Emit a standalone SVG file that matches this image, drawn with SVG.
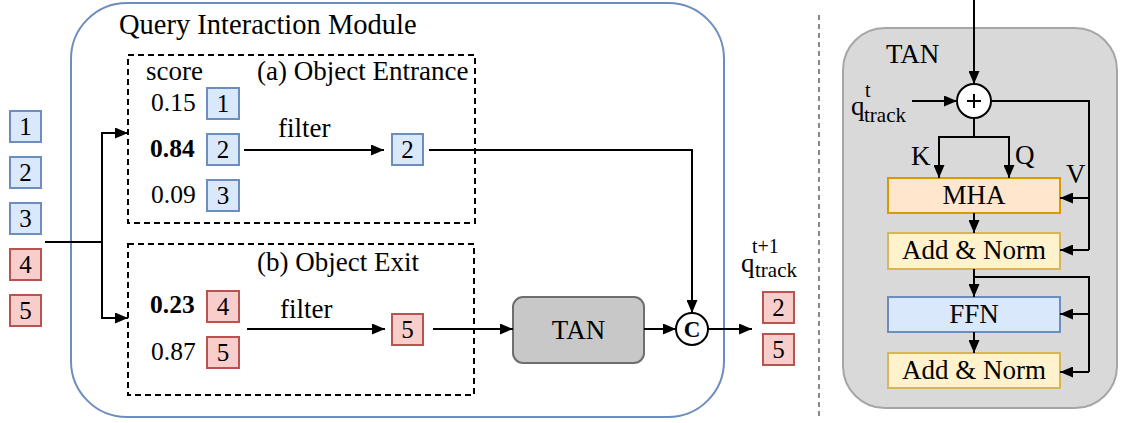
<svg xmlns="http://www.w3.org/2000/svg" width="1121" height="423" viewBox="0 0 1121 423" font-family="'Liberation Serif', 'DejaVu Serif', serif">
  <style>
    text { font-family: 'Liberation Serif', 'DejaVu Serif', serif; fill: #000; }
    .lbl { font-size: 27px; }
    .score { font-size: 25.5px; }
    .num { font-size: 25px; text-anchor: middle; }
    .mid { text-anchor: middle; }
    .blue { fill: #dae8fc; stroke: #6c8ebf; stroke-width: 2; }
    .red { fill: #f8cecc; stroke: #b85450; stroke-width: 2; }
    .dash { fill: none; stroke: #000; stroke-width: 2; stroke-dasharray: 6 4; }
    .wire { fill: none; stroke: #000; stroke-width: 2; }
    .arr { fill: none; stroke: #000; stroke-width: 2; marker-end: url(#head); }
  </style>
  <defs>
    <marker id="head" markerUnits="userSpaceOnUse" markerWidth="13" markerHeight="11" refX="13" refY="5.5" orient="auto">
      <path d="M0,0 L13,5.5 L0,11 z" fill="#000"/>
    </marker>
  </defs>

  <rect width="1121" height="423" fill="#fff"/>

  <!-- module frame -->
  <g id="query-interaction-module">
    <rect x="71" y="3" width="653" height="414" rx="56" ry="56" fill="none" stroke="#6c8ebf" stroke-width="2"/>
    <text x="119" y="34" font-size="28.5">Query Interaction Module</text>
  </g>

  <!-- separator -->
  <line x1="819" y1="15" x2="819" y2="418" stroke="#888" stroke-width="2" stroke-dasharray="5 4"/>

  <!-- input queries -->
  <g id="inputs">
    <rect class="blue" x="10" y="111" width="31" height="31"/><text class="num" x="25.5" y="135">1</text>
    <rect class="blue" x="10" y="157" width="31" height="31"/><text class="num" x="25.5" y="181">2</text>
    <rect class="blue" x="10" y="203" width="31" height="31"/><text class="num" x="25.5" y="227">3</text>
    <rect class="red" x="10" y="249" width="31" height="31"/><text class="num" x="25.5" y="273">4</text>
    <rect class="red" x="10" y="295" width="31" height="31"/><text class="num" x="25.5" y="319">5</text>
  </g>

  <!-- (a) object entrance -->
  <g id="object-entrance">
    <rect class="dash" x="128" y="55" width="347" height="168"/>
    <text class="lbl" x="146" y="80">score</text>
    <text class="lbl" x="257" y="80">(a) Object Entrance</text>
    <text class="score" x="151" y="111">0.15</text>
    <text class="score" x="150" y="157" font-weight="bold">0.84</text>
    <text class="score" x="151" y="203">0.09</text>
    <rect class="blue" x="207" y="88" width="32" height="31"/><text class="num" x="223" y="112">1</text>
    <rect class="blue" x="207" y="134" width="32" height="31"/><text class="num" x="223" y="158">2</text>
    <rect class="blue" x="207" y="180" width="32" height="31"/><text class="num" x="223" y="204">3</text>
    <text class="lbl" x="278" y="137">filter</text>
    <rect class="blue" x="392" y="134" width="31" height="31"/><text class="num" x="407.5" y="158">2</text>
  </g>

  <!-- (b) object exit -->
  <g id="object-exit">
    <rect class="dash" x="128" y="244" width="346" height="151"/>
    <text class="lbl" x="257" y="271">(b) Object Exit</text>
    <text class="score" x="150" y="313" font-weight="bold">0.23</text>
    <text class="score" x="151" y="360">0.87</text>
    <rect class="red" x="207" y="291" width="32" height="31"/><text class="num" x="223" y="315">4</text>
    <rect class="red" x="207" y="337" width="32" height="31"/><text class="num" x="223" y="361">5</text>
    <text class="lbl" x="280" y="318">filter</text>
    <rect class="red" x="392" y="314" width="31" height="31"/><text class="num" x="407.5" y="338">5</text>
  </g>

  <!-- TAN block in module -->
  <g id="tan-block">
    <rect x="513" y="297" width="131" height="66" rx="10" ry="10" fill="#c8c8c8" stroke="#6e6e6e" stroke-width="2"/>
    <text class="lbl mid" x="578.5" y="339">TAN</text>
  </g>

  <!-- concat -->
  <g id="concat">
    <circle cx="692" cy="329" r="16" fill="#fff" stroke="#000" stroke-width="2"/>
    <text class="mid" x="692" y="337" font-size="23" font-weight="bold">C</text>
  </g>

  <!-- output queries -->
  <g id="outputs">
    <text x="752" y="253" font-size="20">t+1</text>
    <text x="741" y="272" font-size="27">q</text>
    <text x="755" y="277" font-size="21">track</text>
    <rect class="red" x="763" y="292" width="31" height="31"/><text class="num" x="778.5" y="316">2</text>
    <rect class="red" x="763" y="334" width="31" height="31"/><text class="num" x="778.5" y="358">5</text>
  </g>

  <!-- TAN detail panel -->
  <g id="tan-detail">
    <rect x="843" y="28" width="274" height="380" rx="42" ry="42" fill="#d9d9d9" stroke="#a6a6a6" stroke-width="2"/>
    <text class="lbl" x="886" y="63">TAN</text>
  </g>
  <g id="add-node">
    <circle cx="974" cy="101" r="17" fill="#fff" stroke="#000" stroke-width="2"/>
    <line x1="967" y1="101" x2="981" y2="101" stroke="#000" stroke-width="2"/>
    <line x1="974" y1="94" x2="974" y2="108" stroke="#000" stroke-width="2"/>
  </g>
  <g id="q-track-t">
    <text x="865" y="97" font-size="20">t</text>
    <text x="851" y="115" font-size="27">q</text>
    <text x="864" y="122" font-size="21">track</text>
  </g>
  <g id="mha">
    <rect x="888" y="178" width="172" height="35" fill="#ffe6cc" stroke="#d79b00" stroke-width="2"/>
    <text class="lbl mid" x="974" y="204">MHA</text>
  </g>
  <g id="add-norm-1">
    <rect x="888" y="233" width="172" height="36" fill="#fff2cc" stroke="#d6b656" stroke-width="2"/>
    <text class="lbl mid" x="974" y="259">Add &amp; Norm</text>
  </g>
  <g id="ffn">
    <rect x="888" y="297" width="172" height="35" fill="#dae8fc" stroke="#6c8ebf" stroke-width="2"/>
    <text class="lbl mid" x="974" y="323">FFN</text>
  </g>
  <g id="add-norm-2">
    <rect x="888" y="353" width="172" height="35" fill="#fff2cc" stroke="#d6b656" stroke-width="2"/>
    <text class="lbl mid" x="974" y="379">Add &amp; Norm</text>
  </g>
  <g id="kqv-labels">
    <text class="lbl" x="911" y="165">K</text>
    <text class="lbl" x="1015" y="164">Q</text>
    <text class="lbl" x="1066" y="183">V</text>
  </g>

  <!-- connectors -->
  <g id="connectors">
    <polyline class="wire" points="45,242 102,242"/>
    <polyline class="arr" points="102,242 102,133 128,133"/>
    <polyline class="arr" points="102,242 102,318 128,318"/>
    <line class="arr" x1="244" y1="150" x2="384" y2="150"/>
    <line class="arr" x1="247" y1="329" x2="385" y2="329"/>
    <polyline class="arr" points="429,150 692,150 692,313"/>
    <line class="arr" x1="433" y1="329" x2="513" y2="329"/>
    <line class="arr" x1="644" y1="329" x2="676" y2="329"/>
    <line class="arr" x1="708" y1="329" x2="752" y2="329"/>

    <line class="arr" x1="974" y1="0" x2="974" y2="84"/>
    <line class="arr" x1="912" y1="101" x2="957" y2="101"/>
    <polyline class="wire" points="974,118 974,137"/>
    <polyline class="arr" points="974,137 939,137 939,178"/>
    <polyline class="arr" points="974,137 1009,137 1009,178"/>
    <polyline class="wire" points="991,101 1089,101 1089,250"/>
    <line class="arr" x1="1089" y1="198" x2="1060" y2="198"/>
    <line class="arr" x1="1089" y1="250" x2="1060" y2="250"/>
    <line class="arr" x1="974" y1="213" x2="974" y2="233"/>
    <line class="arr" x1="974" y1="269" x2="974" y2="297"/>
    <polyline class="wire" points="974,277 1089,277 1089,372"/>
    <line class="arr" x1="1089" y1="314" x2="1060" y2="314"/>
    <line class="arr" x1="1089" y1="372" x2="1060" y2="372"/>
    <line class="arr" x1="974" y1="332" x2="974" y2="353"/>
  </g>
</svg>
